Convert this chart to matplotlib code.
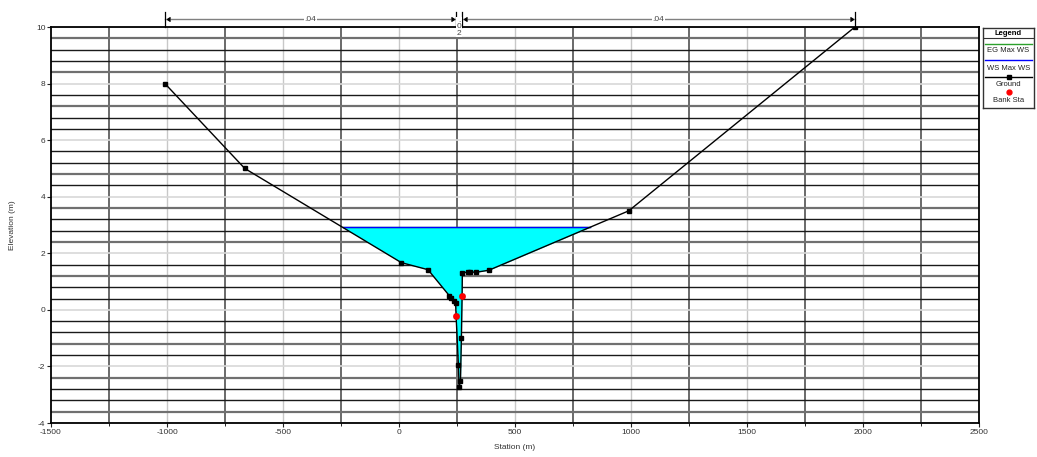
import matplotlib
matplotlib.use("Agg")
import matplotlib.pyplot as plt
import matplotlib.transforms as mtransforms
import numpy as np

plt.rcParams['font.family'] = ['Liberation Sans', 'DejaVu Sans']
plt.rcParams['axes.unicode_minus'] = False

# Cross section ground points
station = [-1009, -665, 10, 125, 217, 226, 236, 244, 246, 256, 259, 265, 269, 272, 273,
           296, 304, 333, 387, 990, 1965]
elevation = [8.0, 5.0, 1.67, 1.42, 0.50, 0.41, 0.31, 0.23, -0.20, -1.94, -2.74, -2.50,
             -0.98, 0.50, 1.31, 1.33, 1.34, 1.33, 1.40, 3.50, 10.0]

# Bank stations
bank_sta = [246, 272]
bank_elev = [-0.20, 0.50]

# Water surface / energy grade
ws_max = 2.92
eg_max = 2.92

# Manning's n
n_lob, n_chan, n_rob = ".04", ".02", ".04"

sta = np.array(station, dtype=float)
elv = np.array(elevation, dtype=float)


def crossings(x, z, level):
    # stations where the ground line crosses a given elevation
    out = []
    for i in range(len(x) - 1):
        z0, z1 = z[i] - level, z[i + 1] - level
        if z0 == 0:
            out.append(x[i])
        elif z0 * z1 < 0:
            out.append(x[i] + (x[i + 1] - x[i]) * z0 / (z0 - z1))
    return out


fig = plt.figure(figsize=(10.37, 4.57), dpi=100)
ax = fig.add_axes([51 / 1037, 34 / 457, 928 / 1037, 396 / 457])
ax.set_xlim(-1500, 2500)
ax.set_ylim(-4, 10)

# grid: vertical every 250, horizontal every 0.4
for gx in np.arange(-1250, 2500, 250):
    if gx % 500 == 0:
        ax.axvline(gx, color='#c8c8c8', lw=1.0, zorder=0)
    else:
        ax.axvline(gx, color='#505050', lw=1.2, zorder=0)
for k, gy in enumerate(np.arange(-4, 10.01, 0.4)):
    gy = round(gy, 1)
    if abs(gy / 2 - round(gy / 2)) < 1e-6:
        ax.axhline(gy, color='#d8d8d8', lw=1.2, zorder=0)
    elif k % 3 == 1:
        ax.axhline(gy, color='#707070', lw=1.6, zorder=0)
    else:
        ax.axhline(gy, color='#1a1a1a', lw=1.0, zorder=0)

# water fill
ax.fill_between(sta, elv, ws_max, where=elv < ws_max, interpolate=True,
                color='#00ffff', lw=0, zorder=1)
xs = crossings(sta, elv, ws_max)
ax.plot([xs[0], xs[-1]], [eg_max, eg_max], color='#2ca02c', lw=1.0, zorder=2)
ax.plot([xs[0], xs[-1]], [ws_max, ws_max], color='#0000ff', lw=1.0, zorder=3)

# ground and bank stations
ax.plot(sta, elv, color='black', lw=1.0, marker='s', markersize=2.6, zorder=4)
ax.plot(bank_sta, bank_elev, 'o', color='red', markersize=3.8, zorder=5, clip_on=False)

ax.set_xticks(np.arange(-1500, 2501, 500))
ax.set_yticks(np.arange(-4, 10.1, 2))
ax.set_xticks(np.arange(-1250, 2500, 250), minor=True)
ax.tick_params(axis='both', labelsize=6, length=3, width=0.8, colors='#222222',
               labelcolor='#333333', pad=1)
ax.tick_params(axis='x', which='minor', length=2)
for s in ax.spines.values():
    s.set_linewidth(1.3)
ax.set_xlabel("Station (m)", fontsize=6, color='#333333', labelpad=6)
ax.set_ylabel("Elevation (m)", fontsize=6, color='#333333', labelpad=14)

# Manning's n brackets above the plot
trans = mtransforms.blended_transform_factory(ax.transData, ax.transAxes)
y_br = 1.020
for x0, x1, lab in [(sta[0], bank_sta[0], n_lob), (bank_sta[1], sta[-1], n_rob)]:
    ax.plot([x0, x1], [y_br, y_br], color='#808080', lw=1.0, transform=trans,
            clip_on=False)
    for xe in (x0, x1):
        ax.plot([xe, xe], [1.0, 1.038], color='black', lw=0.9, transform=trans,
                clip_on=False)
    ax.plot([x0 + 10], [y_br], marker=4, color='black', markersize=3, transform=trans,
            clip_on=False)
    ax.plot([x1 - 10], [y_br], marker=5, color='black', markersize=3, transform=trans,
            clip_on=False)
    ax.text((x0 + x1) / 2, y_br, lab, fontsize=6, color='#444444', ha='center',
            va='center', transform=trans,
            bbox=dict(facecolor='white', edgecolor='none', pad=0.5))
ax.text((bank_sta[0] + bank_sta[1]) / 2, 1.0, ".\n0\n2", fontsize=6, color='#444444',
        ha='center', va='center', linespacing=0.9, transform=trans,
        bbox=dict(facecolor='white', edgecolor='none', pad=0.2), zorder=6)

# legend box (pixel-like coordinates inside a small axes)
lg = fig.add_axes([983 / 1037, (457 - 108) / 457, 51 / 1037, 80 / 457])
lg.set_xlim(0, 51)
lg.set_ylim(80, 0)
lg.set_xticks([])
lg.set_yticks([])
for s in lg.spines.values():
    s.set_linewidth(1.0)
    s.set_color('#333333')
lg.text(25.5, 5.5, "Legend", fontsize=5.5, fontweight='bold', ha='center', va='center')
lg.plot([0, 51], [10, 10], color='#333333', lw=0.8)
lg.plot([2, 49], [15.5, 15.5], color='#2ca02c', lw=1.0)
lg.text(25.5, 23, "EG Max WS", fontsize=5.5, ha='center', va='center', color='#222222')
lg.plot([2, 49], [32, 32], color='#0000ff', lw=1.0)
lg.text(25.5, 40, "WS Max WS", fontsize=5.5, ha='center', va='center', color='#222222')
lg.plot([2, 49], [48.5, 48.5], color='black', lw=1.0)
lg.plot([25.5], [48.5], 's', color='black', markersize=2.5)
lg.text(25.5, 56.5, "Ground", fontsize=5.5, ha='center', va='center', color='#222222')
lg.plot([25.5], [64], 'o', color='red', markersize=3.5)
lg.text(25.5, 72.5, "Bank Sta", fontsize=5.5, ha='center', va='center', color='#222222')

fig.savefig("out.png", dpi=100)
